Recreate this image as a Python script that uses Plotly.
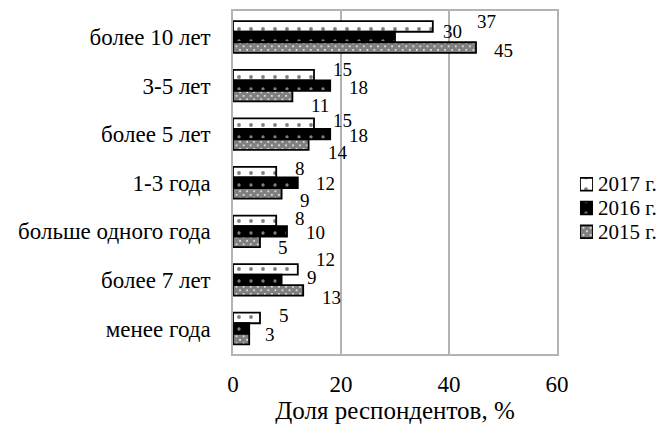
import plotly.graph_objects as go

# Stage of work experience (categories, top to bottom)
categories = ["более 10 лет", "3-5 лет", "более 5 лет", "1-3 года",
              "больше одного года", "более 7 лет", "менее года"]

# Share of respondents, %
values_2017 = [37, 15, 15, 8, 8, 12, 5]
values_2016 = [30, 18, 18, 12, 10, 9, 3]
values_2015 = [45, 11, 14, 9, 5, 13, 3]

series_names = ["2017 г.", "2016 г.", "2015 г."]
x_ticks = [0, 20, 40, 60]

# Label placement: pixel offset of the label's left edge from the bar end,
# and vertical offset (down = positive) from the category centre.
label_dx = [
    [42, 16.5, 16.5, 16.5, 16.5, 16.5, 16.5],
    [45.5, 16.5, 16.5, 16.5, 17, 23.5, None],
    [16, 17, 17.5, 16, 16, 16.5, 13.5],
]
label_dy = [
    [-16, -16, -14, -14, -12.5, -20.5, -13],
    [-6, 2, 1.5, 1, 1, -2, None],
    [13.5, 20, 18.5, 17.5, 16.5, 17.5, 6],
]

FONT = "Liberation Serif, Times New Roman, serif"
GRID = "#b3b3b3"
BAR_EDGE = dict(color="black", width=1.8)

patterns = [
    dict(shape=".", bgcolor="white", fgcolor="black", size=12, solidity=0.08),
    dict(shape=".", bgcolor="black", fgcolor="white", size=12, solidity=0.06),
    dict(shape="x", bgcolor="white", fgcolor="black", size=5, solidity=0.9),
]

# Main plot occupies the left part of the paper; the key sits to its right.
MAIN_DOMAIN = [0, 0.75]
KEY_X_DOMAIN = [0.8032, 0.8333]
KEY_Y_DOMAIN = [0.3185, 0.5328]
KEY_TEXT_X = 0.8426

fig = go.Figure()
all_values = [values_2017, values_2016, values_2015]
for name, vals, pat in zip(series_names, all_values, patterns):
    fig.add_trace(go.Bar(
        y=categories, x=vals, name=name, orientation="h",
        marker=dict(color=pat["bgcolor"], pattern=pat, line=BAR_EDGE),
        hoverinfo="x+y", showlegend=False,
    ))

# Key: one swatch per series
for name, pat in zip(series_names, patterns):
    fig.add_trace(go.Bar(
        y=[name], x=[1], orientation="h", xaxis="x2", yaxis="y2",
        marker=dict(color=pat["bgcolor"], pattern=pat, line=BAR_EDGE),
        width=0.53, offset=-0.265,
        hoverinfo="skip", showlegend=False,
    ))

annotations = []
for s, vals in enumerate(all_values):
    for i, v in enumerate(vals):
        dx = label_dx[s][i]
        if dx is None:
            continue
        annotations.append(dict(
            x=v, y=categories[i], xref="x", yref="y", text=str(v),
            showarrow=False, xanchor="left", yanchor="middle",
            xshift=dx, yshift=-label_dy[s][i],
            font=dict(family=FONT, size=19, color="black"),
        ))

# Key text next to each swatch
for name in series_names:
    annotations.append(dict(
        x=KEY_TEXT_X, y=name, xref="paper", yref="y2", text=name,
        showarrow=False, xanchor="left", yanchor="middle", borderpad=0,
        font=dict(family=FONT, size=21, color="black"),
    ))

fig.update_layout(
    width=669, height=428,
    margin=dict(l=233, r=4, t=11, b=74),
    paper_bgcolor="white", plot_bgcolor="white",
    barmode="group", bargap=0.35, bargroupgap=0,
    font=dict(family=FONT, size=19, color="black"),
    annotations=annotations,
    showlegend=False,
    xaxis=dict(
        domain=MAIN_DOMAIN, automargin=False,
        range=[0, 60], tickvals=x_ticks, ticktext=[str(t) for t in x_ticks],
        showgrid=True, gridcolor=GRID, gridwidth=1.5,
        showline=True, linecolor=GRID, linewidth=1.5, mirror=True,
        zeroline=False, ticks="", ticklabelstandoff=9,
        title=dict(text="Доля респондентов, %", standoff=2,
                   font=dict(family=FONT, size=25)),
        tickfont=dict(family=FONT, size=23),
    ),
    yaxis=dict(
        automargin=False,
        categoryorder="array", categoryarray=categories, autorange="reversed",
        tickmode="array", tickvals=categories,
        showline=True, linecolor=GRID, linewidth=1.5, mirror=True,
        showgrid=False, ticks="", ticklabelstandoff=16,
        tickfont=dict(family=FONT, size=23),
    ),
    xaxis2=dict(
        domain=KEY_X_DOMAIN, anchor="y2", range=[0, 1], automargin=False,
        showline=False, showgrid=False, zeroline=False,
        showticklabels=False, ticks="", fixedrange=True,
    ),
    yaxis2=dict(
        domain=KEY_Y_DOMAIN, anchor="x2", automargin=False,
        categoryorder="array", categoryarray=series_names, autorange="reversed",
        showline=False, showgrid=False, zeroline=False, ticks="",
        showticklabels=False, fixedrange=True,
    ),
)

fig.write_html("out.html")
